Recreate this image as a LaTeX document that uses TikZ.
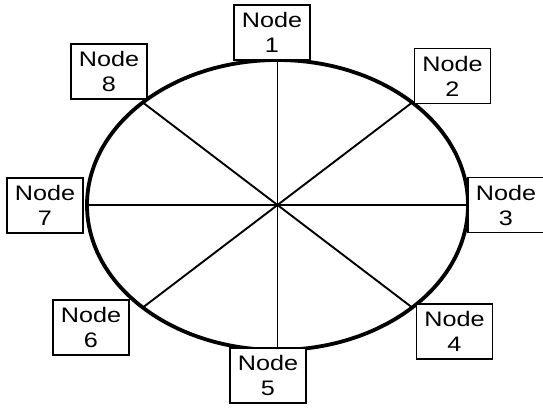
\documentclass[tikz,border=0pt]{standalone}
\usepackage{fontspec}
\newfontfamily\labelfont[FakeStretch=1.2]{Liberation Sans}
\usepackage{tikz}

\begin{document}
\begin{tikzpicture}[
    x=1pt, y=1pt,
    station/.style={rectangle, draw=black, fill=white, line width=1.8pt, minimum width=76pt, minimum height=55pt, inner sep=0pt, align=center, font=\labelfont\fontsize{21}{25}\selectfont},
    ring/.style={line width=3.8pt, black},
    spoke/.style={line width=1.9pt, black},
]
    \useasboundingbox (0,0) rectangle (543,407);

    % ring with its eight spokes
    \coordinate (hub) at (277.5,202);
    \foreach \a in {0,45,...,315} {
        \path (hub) ++(\a:190.5 and 145) coordinate (rim\a);
        \draw[spoke] (hub) -- (rim\a);
    }
    \draw[ring] (hub) ellipse [x radius=190.5, y radius=145];

    % nodes round the ring
    \node[station] (n1) at (272,374.5) {Node\\1};
    \node[station] (n2) at (452.5,331) {Node\\2};
    \node[station] (n3) at (506,202) {Node\\3};
    \node[station] (n4) at (454.5,75.5) {Node\\4};
    \node[station] (n5) at (268,31.5) {Node\\5};
    \node[station] (n6) at (91,79.5) {Node\\6};
    \node[station] (n7) at (45,201.5) {Node\\7};
    \node[station] (n8) at (109,335.5) {Node\\8};
\end{tikzpicture}
\end{document}
